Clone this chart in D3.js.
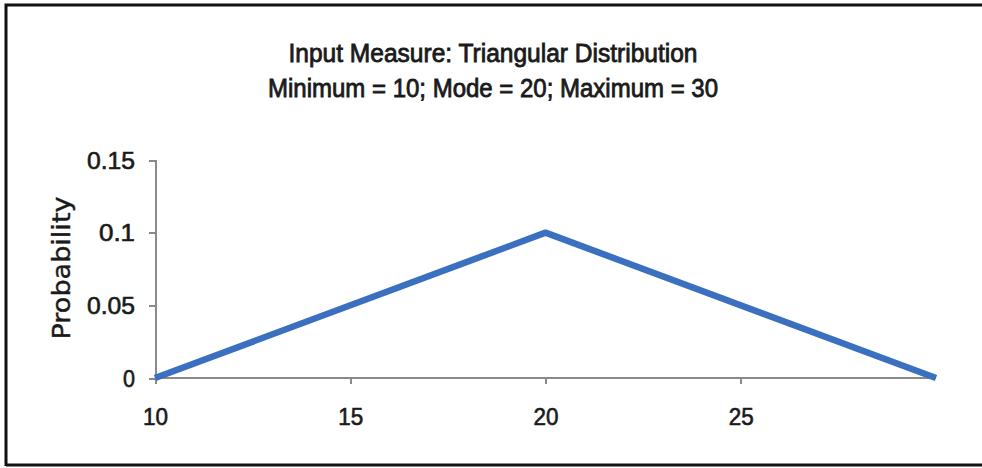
<!DOCTYPE html>
<html>
<head>
<meta charset="utf-8">
<script src="https://cdn.jsdelivr.net/npm/d3@7"></script>
<style>
  body { margin: 0; background: #fff; }
  svg { display: block; }
  .lbl { font-family: "Liberation Sans Narrow", "Liberation Sans", Arial, sans-serif; fill: #1a1a1a; stroke: #1a1a1a; stroke-width: 0.6px; }
</style>
</head>
<body>
<svg id="chart" width="982" height="468"></svg>
<script>
// chart data
const titleLines = ['Input Measure: Triangular Distribution', 'Minimum = 10; Mode = 20; Maximum = 30'];
const xValues = [10, 20, 30];
const probValues = [0, 0.1, 0];
const xTicks = [10, 15, 20, 25];
const yTicks = [0, 0.05, 0.1, 0.15];
const yLabel = 'Probability';

const svg = d3.select('#chart');

// outer frame (left, top, bottom only)
svg.append('path')
    .attr('d', 'M6,466 V5 H982 M6,465 H982')
    .attr('fill', 'none')
    .attr('stroke', '#111')
    .attr('stroke-width', 3);

const x = d3.scaleLinear().domain([10, 30]).range([155, 936]);
const y = d3.scaleLinear().domain([0, 0.15]).range([378, 160]);

// titles
const titleY = [62, 97];
const titleW = [409, 450];
titleLines.forEach((t, i) => {
    svg.append('text')
        .attr('class', 'lbl')
        .attr('x', 493)
        .attr('y', titleY[i])
        .attr('text-anchor', 'middle')
        .attr('textLength', titleW[i])
        .attr('lengthAdjust', 'spacingAndGlyphs')
        .style('font-size', '25px')
        .style('stroke-width', '0.8px')
        .text(t);
});

// y axis
const yAxis = svg.append('g')
    .attr('transform', 'translate(155,0)')
    .call(d3.axisLeft(y).tickValues(yTicks).tickSize(6).tickPadding(14).tickFormat(d => String(d)));
yAxis.select('.domain').attr('stroke', '#8a8a8a').attr('stroke-width', 2);
yAxis.selectAll('.tick line').attr('stroke', '#8a8a8a').attr('stroke-width', 2);
yAxis.selectAll('.tick text')
    .attr('class', 'lbl')
    .attr('font-size', null)
    .style('font-size', '23px')
    .attr('textLength', d => String(d).length * 12)
    .attr('lengthAdjust', 'spacingAndGlyphs')
    .attr('dy', '0.36em');

// x axis
const xAxis = svg.append('g')
    .attr('transform', 'translate(0,378)')
    .call(d3.axisBottom(x).tickValues(xTicks).tickSize(6).tickPadding(24).tickFormat(d3.format('d')));
xAxis.select('.domain').attr('stroke', '#8a8a8a').attr('stroke-width', 2)
    .attr('d', `M${x(10)},0H${x(30)}`);
xAxis.selectAll('.tick line').attr('stroke', '#8a8a8a').attr('stroke-width', 2);
xAxis.selectAll('.tick text')
    .attr('class', 'lbl')
    .attr('font-size', null)
    .style('font-size', '23px')
    .attr('textLength', 25)
    .attr('lengthAdjust', 'spacingAndGlyphs')
    .attr('dy', '0.72em');
svg.selectAll('.domain, .tick line').attr('shape-rendering', 'crispEdges');
svg.selectAll('.tick text').attr('font-family', null);

// y label
svg.append('text')
    .attr('transform', 'translate(70,268) rotate(-90)')
    .attr('text-anchor', 'middle')
    .attr('textLength', 143)
    .attr('lengthAdjust', 'spacingAndGlyphs')
    .style('font-family', '"DejaVu Sans", Verdana, sans-serif')
    .style('font-size', '24px')
    .style('fill', '#1a1a1a')
    .style('stroke', '#1a1a1a')
    .style('stroke-width', '0.4px')
    .text(yLabel);

// distribution line
const line = d3.line()
    .x((d, i) => x(xValues[i]))
    .y(d => y(d));

svg.append('path')
    .datum(probValues)
    .attr('d', line)
    .attr('fill', 'none')
    .attr('stroke', '#3b70c0')
    .attr('stroke-width', 6.5)
    .attr('stroke-linejoin', 'round');
</script>
</body>
</html>
